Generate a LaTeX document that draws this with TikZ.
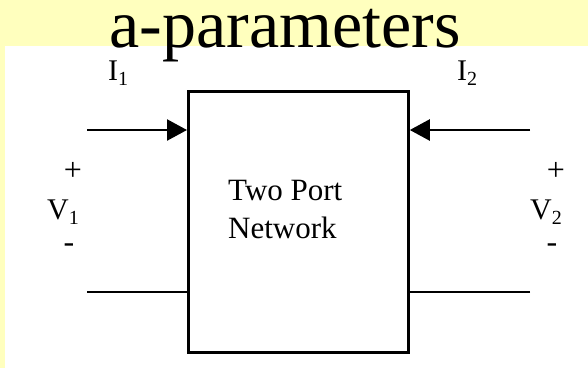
\documentclass[tikz,border=0pt]{standalone}
\usepackage{fontspec}
\setmainfont{Liberation Serif}
\usetikzlibrary{arrows.meta}
\definecolor{slidebg}{RGB}{255,255,190}
% letter with a lowered index, e.g. I_1, V_2
\newcommand\portlabel[2]{#1\raisebox{-5pt}{\fontsize{20}{20}\selectfont #2}}
\begin{document}
\begin{tikzpicture}[x=1pt,y=-1pt,
  wire/.style={line width=2.4pt},
  current/.style={wire,-{Triangle[length=20pt,width=21pt]}},
  netbox/.style={draw,line width=2.8pt,inner sep=0pt,minimum width=220pt,minimum height=261pt},
  lbl/.style={inner sep=0pt,font=\fontsize{30}{30}\selectfont},
  sign/.style={inner sep=0pt,font=\fontsize{32}{32}\selectfont},
  boxtext/.style={inner sep=0pt,anchor=base west,font=\fontsize{31}{38}\selectfont}]
  % slide background and white panel
  \fill[slidebg] (0,0) rectangle (588,368);
  \fill[white] (5,46) rectangle (588,368);
  \useasboundingbox (0,0) rectangle (588,368);

  % title
  \node[inner sep=0pt,anchor=base,font=\fontsize{68}{80}\selectfont] (title) at (285,47) {a-parameters};

  % the two-port box
  \node[netbox,anchor=north west] (net) at (187,90) {};
  \node[boxtext] (txt1) at (228,200) {Two Port};
  \node[boxtext] (txt2) at (228,238) {Network};

  % port terminals
  \coordinate (a1) at (87,130);
  \coordinate (a2) at (530,130);
  \coordinate (b1) at (87,292);
  \coordinate (b2) at (530,292);
  \draw[current] (a1) -- (a1 -| net.west);
  \draw[current] (a2) -- (a2 -| net.east);
  \draw[wire] (b1) -- (b1 -| net.west);
  \draw[wire] (b2) -- (b2 -| net.east);

  % currents
  \node[lbl,anchor=base west] (i1) at (108,80) {\portlabel{I}{1}};
  \node[lbl,anchor=base west] (i2) at (457,80) {\portlabel{I}{2}};

  % voltages
  \node[sign] (p1) at (73,171.5) {+};
  \node[lbl,anchor=base west] (v1) at (47,219) {\portlabel{V}{1}};
  \node[sign] (m1) at (69,248.5) {-};
  \node[sign] (p2) at (556,171.5) {+};
  \node[lbl,anchor=base west] (v2) at (530,219) {\portlabel{V}{2}};
  \node[sign] (m2) at (552,248.5) {-};
\end{tikzpicture}
\end{document}
